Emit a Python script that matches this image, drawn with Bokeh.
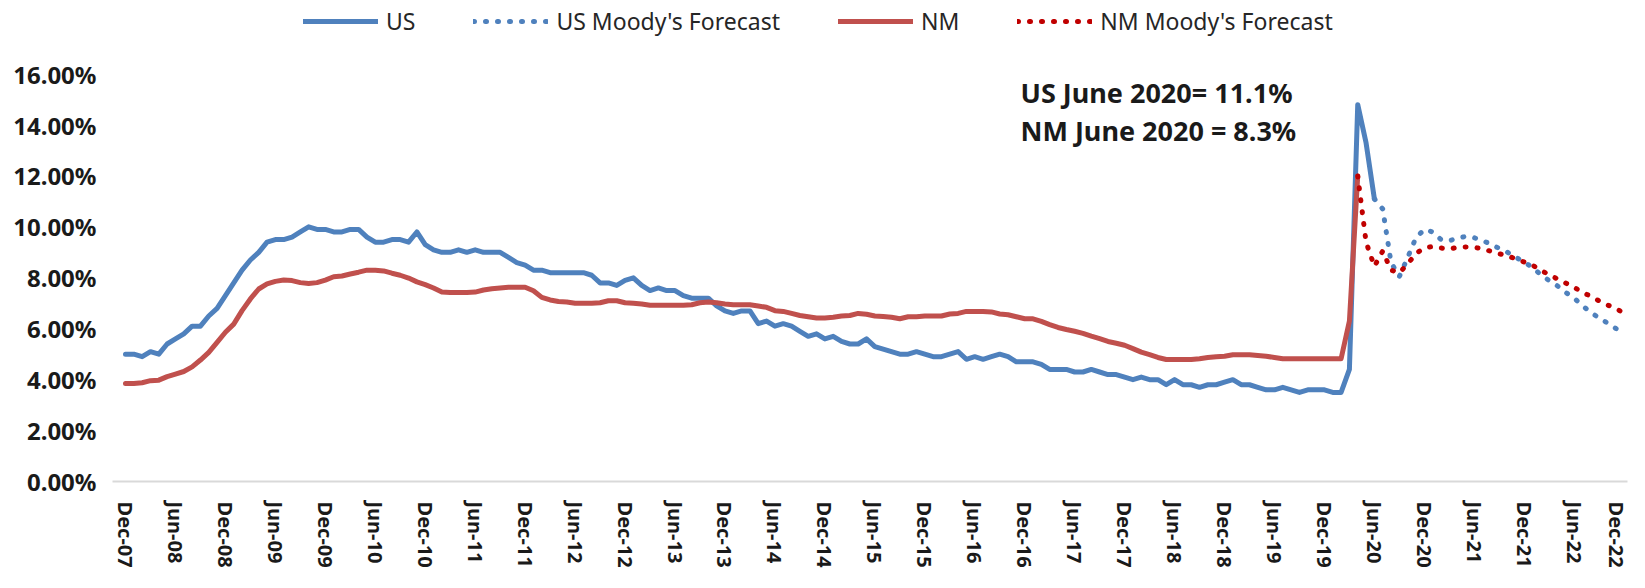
from bokeh.plotting import figure
from bokeh.models import Range1d, FixedTicker, PrintfTickFormatter, Legend, LegendItem, Label
from bokeh.embed import file_html
from bokeh.resources import INLINE

# ---------------- data (monthly, Dec-2007 onward) ----------------
tick_labels = ["Dec-07", "Jun-08", "Dec-08", "Jun-09", "Dec-09", "Jun-10", "Dec-10", "Jun-11",
               "Dec-11", "Jun-12", "Dec-12", "Jun-13", "Dec-13", "Jun-14", "Dec-14", "Jun-15",
               "Dec-15", "Jun-16", "Dec-16", "Jun-17", "Dec-17", "Jun-18", "Dec-18", "Jun-19",
               "Dec-19", "Jun-20", "Dec-20", "Jun-21", "Dec-21", "Jun-22", "Dec-22"]

us_actual = [5.0,
             5.0, 4.9, 5.1, 5.0, 5.4, 5.6, 5.8, 6.1, 6.1, 6.5, 6.8, 7.3,
             7.8, 8.3, 8.7, 9.0, 9.4, 9.5, 9.5, 9.6, 9.8, 10.0, 9.9, 9.9,
             9.8, 9.8, 9.9, 9.9, 9.6, 9.4, 9.4, 9.5, 9.5, 9.4, 9.8, 9.3,
             9.1, 9.0, 9.0, 9.1, 9.0, 9.1, 9.0, 9.0, 9.0, 8.8, 8.6, 8.5,
             8.3, 8.3, 8.2, 8.2, 8.2, 8.2, 8.2, 8.1, 7.8, 7.8, 7.7, 7.9,
             8.0, 7.7, 7.5, 7.6, 7.5, 7.5, 7.3, 7.2, 7.2, 7.2, 6.9, 6.7,
             6.6, 6.7, 6.7, 6.2, 6.3, 6.1, 6.2, 6.1, 5.9, 5.7, 5.8, 5.6,
             5.7, 5.5, 5.4, 5.4, 5.6, 5.3, 5.2, 5.1, 5.0, 5.0, 5.1, 5.0,
             4.9, 4.9, 5.0, 5.1, 4.8, 4.9, 4.8, 4.9, 5.0, 4.9, 4.7, 4.7,
             4.7, 4.6, 4.4, 4.4, 4.4, 4.3, 4.3, 4.4, 4.3, 4.2, 4.2, 4.1,
             4.0, 4.1, 4.0, 4.0, 3.8, 4.0, 3.8, 3.8, 3.7, 3.8, 3.8, 3.9,
             4.0, 3.8, 3.8, 3.7, 3.6, 3.6, 3.7, 3.6, 3.5, 3.6, 3.6, 3.6,
             3.5, 3.5, 4.4, 14.8, 13.3, 11.1]

nm_actual = [3.85, 3.85, 3.88, 3.96, 3.98, 4.12, 4.22, 4.32, 4.50, 4.77, 5.07, 5.46,
             5.86, 6.18, 6.71, 7.17, 7.56, 7.76, 7.86, 7.91, 7.89, 7.81, 7.78, 7.81,
             7.91, 8.04, 8.07, 8.15, 8.22, 8.30, 8.30, 8.27, 8.18, 8.10, 7.99, 7.84,
             7.73, 7.60, 7.44, 7.42, 7.42, 7.42, 7.44, 7.52, 7.57, 7.60, 7.63, 7.63,
             7.63, 7.49, 7.23, 7.13, 7.07, 7.05, 7.00, 7.00, 7.00, 7.02, 7.10, 7.10,
             7.02, 7.00, 6.97, 6.92, 6.92, 6.92, 6.92, 6.92, 6.94, 7.02, 7.05, 7.02,
             6.97, 6.94, 6.94, 6.94, 6.89, 6.84, 6.71, 6.68, 6.60, 6.52, 6.47, 6.42,
             6.42, 6.45, 6.50, 6.52, 6.60, 6.57, 6.50, 6.48, 6.45, 6.39, 6.47, 6.47,
             6.50, 6.50, 6.50, 6.58, 6.60, 6.68, 6.68, 6.68, 6.66, 6.58, 6.55, 6.47,
             6.39, 6.39, 6.29, 6.16, 6.05, 5.97, 5.90, 5.82, 5.71, 5.61, 5.50, 5.43,
             5.35, 5.22, 5.08, 4.98, 4.87, 4.79, 4.79, 4.79, 4.79, 4.82, 4.87, 4.90,
             4.92, 4.98, 4.98, 4.98, 4.95, 4.92, 4.87, 4.82, 4.82, 4.82, 4.82, 4.82,
             4.82, 4.82, 4.82, 6.3, 12.0]

us_forecast = [11.1, 10.7, 8.6, 8.05, 8.8, 9.58, 9.9, 9.8, 9.5, 9.46, 9.55, 9.63,
               9.57, 9.46, 9.32, 9.15, 9.0, 8.8, 8.62, 8.4, 8.12, 7.89, 7.68, 7.42,
               7.2, 6.9, 6.64, 6.42, 6.22, 6.01, 5.82]

nm_forecast = [12.0, 9.4, 8.45, 9.05, 8.3, 8.2, 8.54, 8.96, 9.17, 9.23, 9.17, 9.13,
               9.2, 9.21, 9.2, 9.13, 9.04, 8.94, 8.87, 8.73, 8.62, 8.49, 8.29, 8.12,
               7.95, 7.79, 7.62, 7.43, 7.27, 7.09, 6.93, 6.8, 6.6]

series_names = ["US", "US Moody's Forecast", "NM", "NM Moody's Forecast"]
notes = ["US June 2020= 11.1%", "NM June 2020 = 8.3%"]
y_ticks = [0, 2, 4, 6, 8, 10, 12, 14, 16]

# ---------------- positions ----------------
x_us = list(range(len(us_actual)))
x_nm = list(range(len(nm_actual)))
us_fc_start = len(us_actual) - 1
nm_fc_start = len(nm_actual) - 1
x_us_fc = list(range(us_fc_start, us_fc_start + len(us_forecast)))
x_nm_fc = list(range(nm_fc_start, nm_fc_start + len(nm_forecast)))
n_months = x_us_fc[-1]

BLUE = "#4F81BD"
RED = "#C0504D"
RED_FC = "#C00000"
FONT = "Noto Sans"

# frame spans the full canvas height above the x axis so the legend fits inside it
p = figure(width=1629, height=572, output_backend="svg", toolbar_location=None,
           x_range=Range1d(-1.56, n_months + 0.4), y_range=Range1d(0, 18.89),
           min_border_left=112, min_border_right=2, min_border_top=0, min_border_bottom=91)
p.title.visible = False
p.outline_line_color = None
p.xgrid.visible = False
p.ygrid.visible = False

r_us = p.line(x_us, us_actual, line_color=BLUE, line_width=5, line_join="round", line_cap="round")
r_us_fc = p.line(x_us_fc, us_forecast, line_color=BLUE, line_width=5, line_dash="1 11", line_cap="round")
r_nm = p.line(x_nm, nm_actual, line_color=RED, line_width=5, line_join="round", line_cap="round")
r_nm_fc = p.line(x_nm_fc, nm_forecast, line_color=RED_FC, line_width=5, line_dash="1 11", line_cap="round")

# y axis
ya = p.yaxis[0]
ya.ticker = FixedTicker(ticks=y_ticks)
ya.formatter = PrintfTickFormatter(format="%.2f%%")
ya.axis_line_color = None
ya.major_tick_line_color = None
ya.minor_tick_line_color = None
ya.major_tick_out = 0
ya.major_label_standoff = 16
ya.major_label_text_font = FONT
ya.major_label_text_font_style = "bold"
ya.major_label_text_font_size = "24px"
ya.major_label_text_color = "#1a1a1a"

# x axis
xa = p.xaxis[0]
xa.ticker = FixedTicker(ticks=[i * 6 for i in range(len(tick_labels))])
xa.major_label_overrides = {i * 6: lab for i, lab in enumerate(tick_labels)}
xa.major_label_orientation = "vertical"
xa.axis_line_color = "#D9D9D9"
xa.axis_line_width = 2
xa.major_tick_line_color = None
xa.minor_tick_line_color = None
xa.major_tick_out = 0
xa.major_label_standoff = 20
xa.major_label_text_font = FONT
xa.major_label_text_font_style = "bold"
xa.major_label_text_font_size = "20px"
xa.major_label_text_color = "#1a1a1a"

legend = Legend(items=[LegendItem(label=series_names[0], renderers=[r_us]),
                       LegendItem(label=series_names[1], renderers=[r_us_fc]),
                       LegendItem(label=series_names[2], renderers=[r_nm]),
                       LegendItem(label=series_names[3], renderers=[r_nm_fc])],
                orientation="horizontal", location=(191, 444),
                glyph_width=75, glyph_height=20, label_standoff=8, spacing=58,
                padding=0, margin=0, border_line_color=None, background_fill_alpha=0,
                label_text_font=FONT, label_text_font_size="23px", label_text_color="#262626")
p.add_layout(legend)

for txt, yy in zip(notes, [389, 351]):
    p.add_layout(Label(x=908, y=yy, x_units="screen", y_units="screen", text=txt,
                       text_font=FONT, text_font_style="bold", text_font_size="27px",
                       text_baseline="middle", text_align="left", text_color="#1a1a1a"))

open("out.html", "w").write(file_html(p, INLINE))
